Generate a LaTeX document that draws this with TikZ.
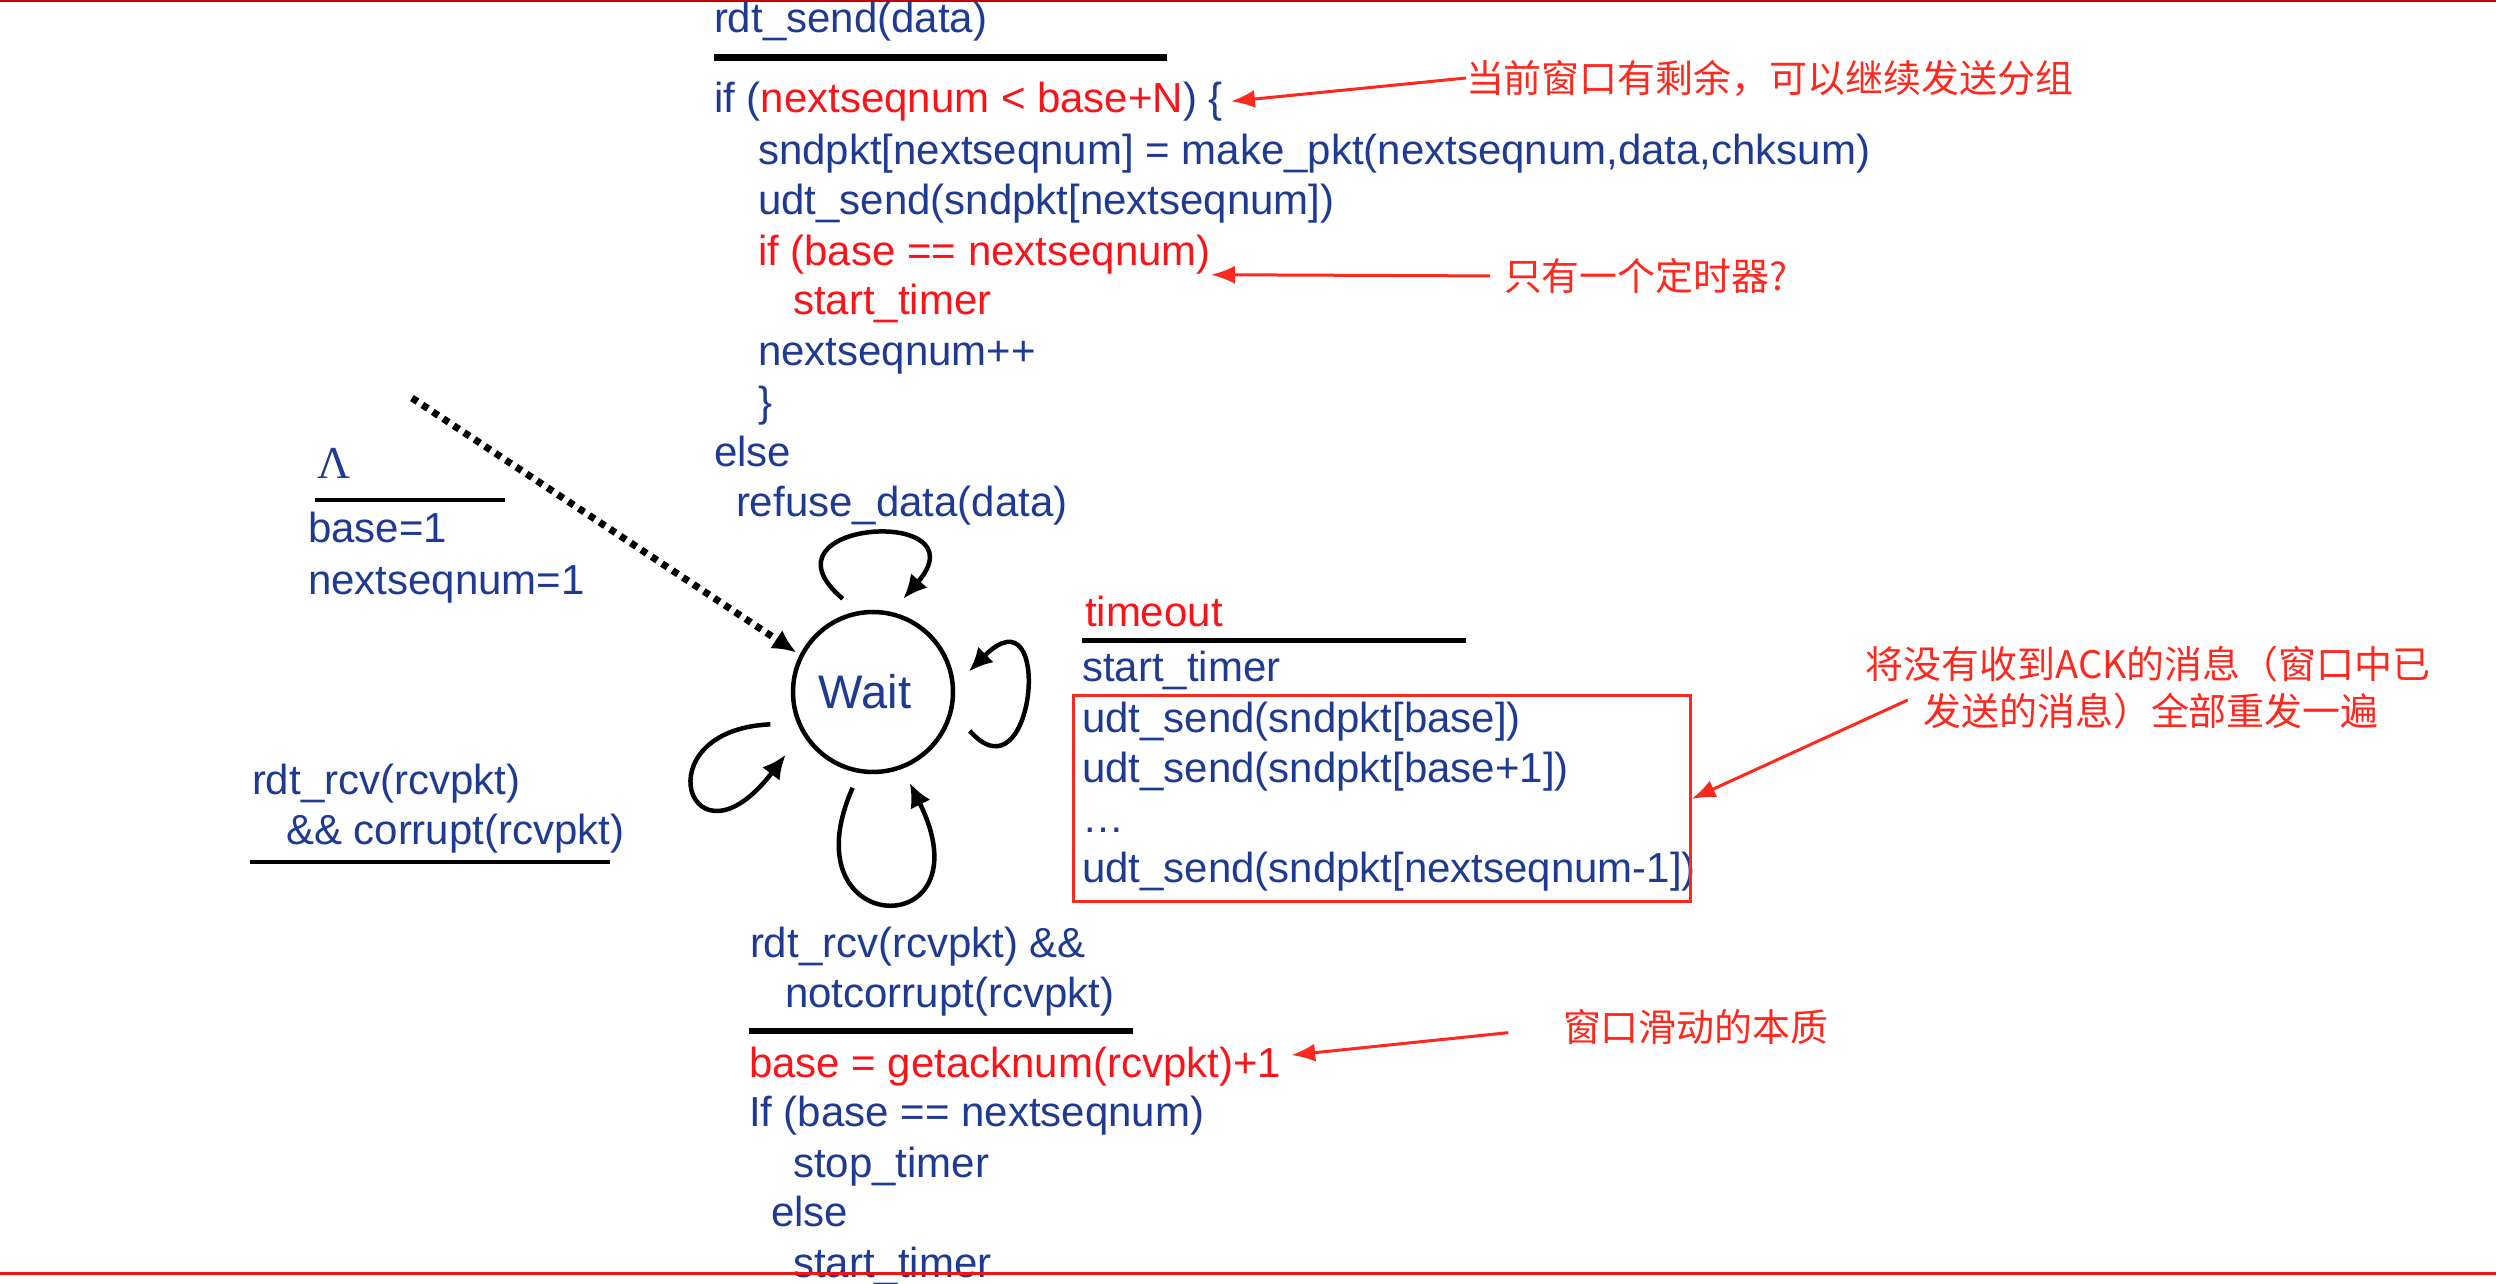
\documentclass[tikz,border=0pt]{standalone}
\usepackage{fontspec}
\setmainfont{Liberation Sans}
\newfontfamily\cjkfont{Noto Sans CJK SC}
\newfontfamily\seriffont{Liberation Serif}
\usetikzlibrary{arrows.meta}
\definecolor{codeblue}{RGB}{31,58,147}
\definecolor{codered}{RGB}{250,20,25}
\definecolor{notered}{RGB}{255,40,30}
\definecolor{topred}{RGB}{192,0,0}
\definecolor{linered}{RGB}{240,20,20}
\begin{document}
\begin{tikzpicture}[x=0.1mm,y=-0.1mm,
  code/.style={anchor=base west, inner sep=0pt, outer sep=0pt, text=codeblue, font=\fontsize{11.95pt}{14pt}\selectfont},
  redcode/.style={code, text=codered},
  note/.style={inner sep=0pt, outer sep=0pt, text=notered, font=\cjkfont\fontsize{10.8pt}{13pt}\selectfont},
  notearrow/.style={draw=notered, line width=0.3mm, -{Latex[length=2.4mm,width=1.8mm]}},
  rulebar/.style={line width=0.45mm, black},
  loopline/.style={line width=0.45mm, -{Latex[length=2.4mm,width=2.2mm]}},
  dotline/.style={line width=0.7mm, dash pattern=on 0.65mm off 0.6mm, -{Latex[length=2.4mm,width=2.2mm]}},
]
\useasboundingbox (0,0) rectangle (2496,1284);
\fill[white] (0,0) rectangle (2496,1284);

% top block
\node[code] (a1) at (714,33) {rdt\_send(data)};
\draw[line width=0.65mm] (714,57.5) -- (1167,57.5);
\node[code] (a2) at (714,113) {if (\textcolor{codered}{nextseqnum < base+N}) \{};
\node[code] (a3) at (758,165) {sndpkt[nextseqnum] = make\_pkt(nextseqnum,data,chksum)};
\node[code] (a4) at (758,215) {udt\_send(sndpkt[nextseqnum])};
\node[redcode] (a5) at (758,266) {if (base == nextseqnum)};
\node[redcode] (a6) at (793,315) {start\_timer};
\node[code] (a7) at (758,366) {nextseqnum++};
\node[code] (a8) at (758,417) {\}};
\node[code] (a9) at (714,467) {else};
\node[code] (a10) at (736,517) {refuse\_data(data)};

% initial
\node[code, font=\seriffont\fontsize{13pt}{15pt}\selectfont] (lam) at (317,479) {Λ};
\draw[rulebar] (315,500) -- (505,500);
\node[code] (b1) at (308,543) {base=1};
\node[code] (b2) at (308,595) {nextseqnum=1};

% corrupt
\node[code] (c1) at (252,795) {rdt\_rcv(rcvpkt)};
\node[code] (c2) at (286,845) {\&\& corrupt(rcvpkt)};
\draw[rulebar] (250,862) -- (610,862);

% state
\node[circle, draw, line width=0.45mm, minimum size=16mm, inner sep=0pt, outer sep=1.8mm,
      text=codeblue, font=\fontsize{13.4pt}{16pt}\selectfont] (W) at (873,692) {Wait\kern1.6mm};
\coordinate (ds) at (412,398);
\draw[dotline, shorten >=-1.2mm] (ds) -- (W.152);
\draw[loopline] (W.108) .. controls (750,520) and (985,505) .. (W.72);
\draw[loopline, shorten <=0.7mm] (W.-20) .. controls (1035,805) and (1055,585) .. (W.12);
\draw[loopline, shorten <=1mm, shorten >=1mm] (W.199) .. controls (640,730) and (690,880) .. (W.214);
\draw[loopline] (W.258) .. controls (785,940) and (990,945) .. (W.292);

% timeout block
\node[redcode] (t1) at (1085,627) {timeout};
\draw[rulebar] (1082,640.5) -- (1466,640.5);
\node[code] (t2) at (1082,682) {start\_timer};
\node[code] (t3) at (1082,733) {udt\_send(sndpkt[base])};
\node[code] (t4) at (1082,783) {udt\_send(sndpkt[base+1])};
\node[code] (t5) at (1082,833) {…};
\node[code] (t6) at (1082,883) {udt\_send(sndpkt[nextseqnum-1])};
\node[draw=notered, line width=0.3mm, minimum width=61.7mm, minimum height=20.6mm, inner sep=0pt] (tbox) at (1381.5,799) {};

% bottom block
\node[code] (d1) at (750,958) {rdt\_rcv(rcvpkt) \&\&};
\node[code] (d2) at (785,1008) {notcorrupt(rcvpkt)};
\draw[line width=0.6mm] (749,1031) -- (1133,1031);
\node[redcode] (d3) at (749,1077) {base = getacknum(rcvpkt)+1};
\node[code] (d4) at (749,1127) {If (base == nextseqnum)};
\node[code] (d5) at (793,1177) {stop\_timer};
\node[code] (d6) at (771,1227) {else};
\node[code] (d7) at (793,1277) {start\_timer};

% annotations
\node[note, anchor=west] (n1) at (1466,78) {当前窗口有剩余，可以继续发送分组};
\node[note, anchor=west] (n2) at (1504,276) {只有一个定时器?};
\node[note] (n3a) at (2148,664) {将没有收到ACK的消息（窗口中已};
\node[note] (n3b) at (2151,711) {发送的消息）全部重发一遍};
\node[note, anchor=west] (n4) at (1563,1027) {窗口滑动的本质};

\draw[notearrow, shorten >=0.8mm] (n1.west) -- (a2.east);
\draw[notearrow, shorten <=1.4mm] (n2.west) -- (a5.south east);
\draw[notearrow, shorten <=1.7mm] (n3b.north west) -- (tbox.east);
\draw[notearrow, shorten <=5.5mm, shorten >=1mm] (n4.west) -- ([yshift=1mm]d3.east);

% frame lines
\draw[topred, line width=0.25mm] (0,1.2) -- (2496,1.2);
\draw[linered, line width=0.3mm] (0,1273) -- (2496,1273);
\end{tikzpicture}
\end{document}
